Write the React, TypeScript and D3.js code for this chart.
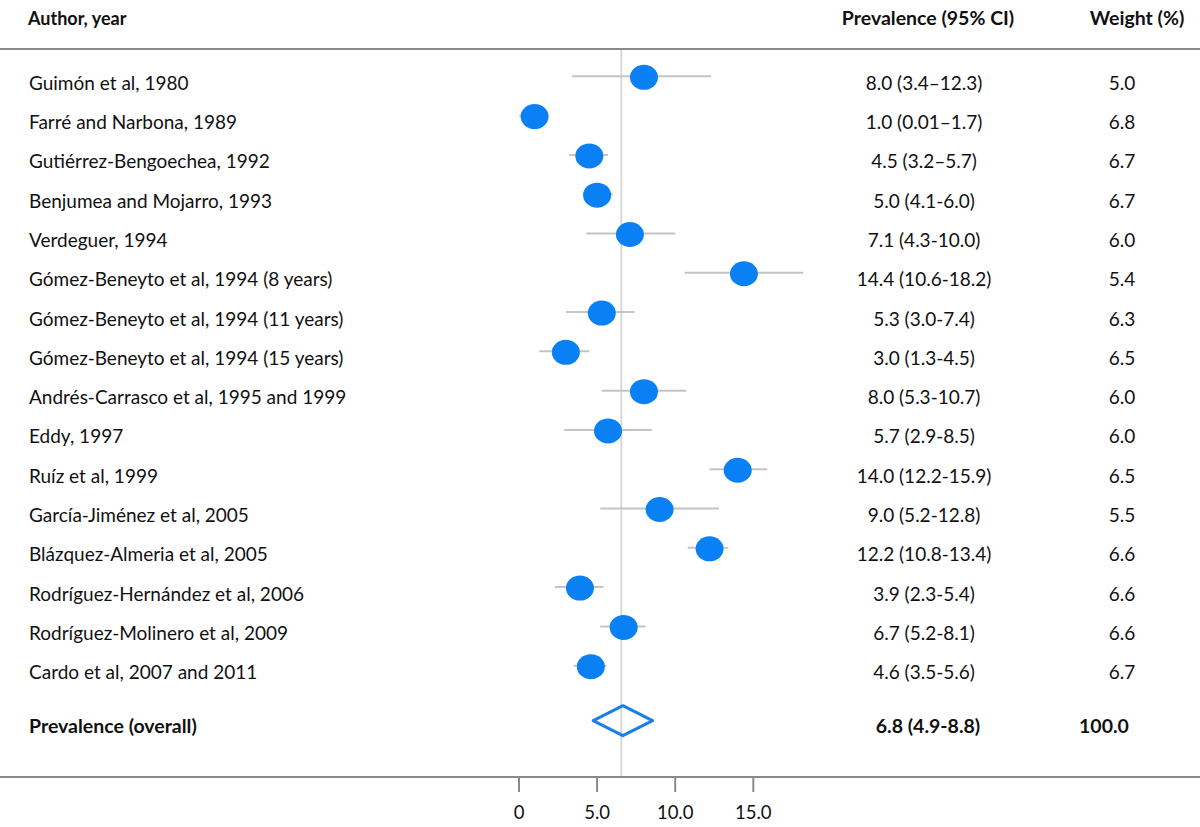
import React from "react";
import * as d3 from "d3";

const studies = [
  "Guimón et al, 1980",
  "Farré and Narbona, 1989",
  "Gutiérrez-Bengoechea, 1992",
  "Benjumea and Mojarro, 1993",
  "Verdeguer, 1994",
  "Gómez-Beneyto et al, 1994 (8 years)",
  "Gómez-Beneyto et al, 1994 (11 years)",
  "Gómez-Beneyto et al, 1994 (15 years)",
  "Andrés-Carrasco et al, 1995 and 1999",
  "Eddy, 1997",
  "Ruíz et al, 1999",
  "García-Jiménez et al, 2005",
  "Blázquez-Almeria et al, 2005",
  "Rodríguez-Hernández et al, 2006",
  "Rodríguez-Molinero et al, 2009",
  "Cardo et al, 2007 and 2011",
];
const estimates = [8.0, 1.0, 4.5, 5.0, 7.1, 14.4, 5.3, 3.0, 8.0, 5.7, 14.0, 9.0, 12.2, 3.9, 6.7, 4.6];
const lowers = [3.4, 0.01, 3.2, 4.1, 4.3, 10.6, 3.0, 1.3, 5.3, 2.9, 12.2, 5.2, 10.8, 2.3, 5.2, 3.5];
const uppers = [12.3, 1.7, 5.7, 6.0, 10.0, 18.2, 7.4, 4.5, 10.7, 8.5, 15.9, 12.8, 13.4, 5.4, 8.1, 5.6];
const ciLabels = [
  "8.0 (3.4–12.3)",
  "1.0 (0.01–1.7)",
  "4.5 (3.2–5.7)",
  "5.0 (4.1-6.0)",
  "7.1 (4.3-10.0)",
  "14.4 (10.6-18.2)",
  "5.3 (3.0-7.4)",
  "3.0 (1.3-4.5)",
  "8.0 (5.3-10.7)",
  "5.7 (2.9-8.5)",
  "14.0 (12.2-15.9)",
  "9.0 (5.2-12.8)",
  "12.2 (10.8-13.4)",
  "3.9 (2.3-5.4)",
  "6.7 (5.2-8.1)",
  "4.6 (3.5-5.6)",
];
const weights = ["5.0", "6.8", "6.7", "6.7", "6.0", "5.4", "6.3", "6.5", "6.0", "6.0", "6.5", "5.5", "6.6", "6.6", "6.6", "6.7"];

const overallLabel = "Prevalence (overall)";
const overallCI = "6.8 (4.9-8.8)";
const overallWeight = "100.0";
// diamond as drawn in the picture: [lower, estimate, upper]
const overallMarker = [4.75, 6.65, 8.55];
const referenceValue = 6.55;

const axisTicks = [0, 5, 10, 15];
const axisTickLabels = ["0", "5.0", "10.0", "15.0"];

const headers = ["Author, year", "Prevalence (95% CI)", "Weight (%)"];

const W = 1200;
const H = 827;
const FONT = "Lato, 'Open Sans', sans-serif";
const REG = 19;
const BOLD = 19.5;

export default function App() {
  const x = d3.scaleLinear().domain([0, 15]).range([519, 753.3]);
  const y = d3
    .scaleLinear()
    .domain([0, studies.length - 1])
    .range([77.3, 666.7]);
  const blue = "#0a80f5";
  const overallY = 720.7;
  const diamond = d3.line<[number, number]>()([
    [x(overallMarker[0]), overallY],
    [x(overallMarker[1]), overallY - 15],
    [x(overallMarker[2]), overallY],
    [x(overallMarker[1]), overallY + 15],
  ]) + "Z";

  return (
    <svg
      width={W}
      height={H}
      style={{ position: "absolute", left: 0, top: 0, background: "#fff" }}
      fontFamily={FONT}
    >
      <rect x={0} y={0} width={W} height={H} fill="#fff" />
      {/* headers */}
      <text x={28} y={25} fontSize={18} fontWeight="bold" fill="#111">
        {headers[0]}
      </text>
      <text x={928} y={25} fontSize={BOLD} fontWeight="bold" textAnchor="middle" fill="#111">
        {headers[1]}
      </text>
      <text x={1137} y={25} fontSize={BOLD} fontWeight="bold" textAnchor="middle" fill="#111">
        {headers[2]}
      </text>
      <line x1={0} x2={W} y1={49} y2={49} stroke="#8a8a8a" strokeWidth={2} />

      {/* reference line */}
      <line
        x1={x(referenceValue)}
        x2={x(referenceValue)}
        y1={50}
        y2={777}
        stroke="#d8d8d8"
        strokeWidth={2}
      />

      {studies.map((s, i) => (
        <g key={s}>
          <text x={29} y={y(i) + 12.5} fontSize={REG} fill="#111">
            {s}
          </text>
          <line
            x1={x(lowers[i])}
            x2={x(uppers[i])}
            y1={y(i) - 1}
            y2={y(i) - 1}
            stroke="#c4c4c4"
            strokeWidth={2}
          />
          <ellipse cx={x(estimates[i])} cy={y(i)} rx={14} ry={12.5} fill={blue} />
          <text x={924} y={y(i) + 12.5} fontSize={REG} textAnchor="middle" fill="#111">
            {ciLabels[i]}
          </text>
          <text x={1122} y={y(i) + 12.5} fontSize={REG} textAnchor="middle" fill="#111">
            {weights[i]}
          </text>
        </g>
      ))}

      {/* overall */}
      <text x={29} y={733} fontSize={BOLD} fontWeight="bold" fill="#111">
        {overallLabel}
      </text>
      <path d={diamond} fill="none" stroke="#1a7fe8" strokeWidth={3} strokeLinejoin="round" />
      <text x={928} y={733} fontSize={BOLD} fontWeight="bold" textAnchor="middle" fill="#111">
        {overallCI}
      </text>
      <text x={1104} y={733} fontSize={BOLD} fontWeight="bold" textAnchor="middle" fill="#111">
        {overallWeight}
      </text>

      {/* axis */}
      <line x1={0} x2={W} y1={777} y2={777} stroke="#8a8a8a" strokeWidth={2} />
      {axisTicks.map((t, i) => (
        <g key={t}>
          <line x1={x(t)} x2={x(t)} y1={777} y2={792} stroke="#8a8a8a" strokeWidth={2} />
          <text x={x(t)} y={819} fontSize={18.5} textAnchor="middle" fill="#111">
            {axisTickLabels[i]}
          </text>
        </g>
      ))}
    </svg>
  );
}
